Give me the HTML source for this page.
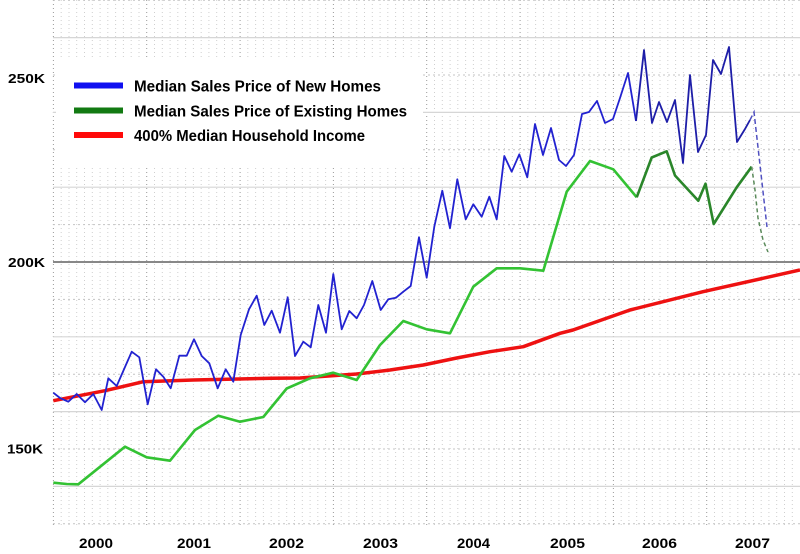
<!DOCTYPE html>
<html><head><meta charset="utf-8"><style>
html,body{margin:0;padding:0;background:#fff;}
svg{display:block;}
text{font-family:"Liberation Sans",Arial,sans-serif;font-weight:bold;fill:#000;}
</style></head><body>
<svg width="800" height="554" viewBox="0 0 800 554" xmlns="http://www.w3.org/2000/svg">
<rect width="800" height="554" fill="#fff"/>
<g id="vgrid" stroke-width="1" stroke-dasharray="1,3"></g>
<g id="hgrid"></g>
<!-- legend box -->
<rect x="56" y="57" width="367" height="111" fill="#fff"/>
<line x1="53" y1="262" x2="800" y2="262" stroke="#888" stroke-width="2"/>
<!-- red -->
<polyline fill="none" stroke="#ee1111" stroke-width="3.5" stroke-linejoin="round" points="53.3,400.7 105,390.7 143.3,381.7 193.3,380 271.7,378.3 300,378 356.7,374 390,370 423.3,365 456.7,358 490,351.7 523.3,346.7 560,333.3 573,330 630,310 703,291.7 800,270"/>
<!-- green -->
<polyline fill="none" stroke="#33c233" stroke-width="2.6" stroke-linejoin="round" points="53.3,482.7 66.7,484 78.3,484.3 125,446.7 146.7,457.3 170,460.7 195,430 218.3,415.7 240,421.7 263.3,417 286.7,388.5 310,378.3 333.3,372.7 356.7,380 380,345 403.3,321 426.7,329.3 450,333.3 473.3,286.7 496.7,268.3 520,268.3 543.3,270.7 566.7,191.7 590,161 613.3,169.3 636.7,197.3"/>
<polyline fill="none" stroke="#2a862a" stroke-width="2.6" stroke-linejoin="round" points="636.7,197.3 651.7,157.5 666.7,151.3 675,175.5 698.3,200.7 705.5,183.7 713.7,224 736.7,187.3 751.7,166.7"/>
<polyline fill="none" stroke="#5a8a5a" stroke-width="1.5" stroke-dasharray="4,3" points="751.7,166.7 755,190 758,218 763,240 768,252"/>
<!-- blue -->
<polyline fill="none" stroke="#2222d0" stroke-width="1.8" stroke-linejoin="round" points="53.3,392.7 60,398 68.3,401.7 76.7,394 85,402.3 93.3,394 101.7,410 108.3,378.3 116.7,386 131.7,351.7 139.3,357.3 147.7,404.3 156,369.3 163.3,376.7 170.7,388.3 179.3,355.7 186.7,355.7 194,339.3 201.7,356 209.3,363.3 217.7,388.3 225.7,369.3 233.3,381.7 240.7,335 249,309.3 256.7,295.7 264.3,325 271.7,310.7 280,332.7 287.7,297.3 295,356 303.3,341.7 310.7,347.3 318.3,305 326,332.7 333.3,274 341.7,329.3 349.3,311 356.7,318.3 364,305 372.3,281 380.7,310 388.3,299.3 396,297.7 403.3,291.7 410.7,286 419,237.3 426.7,277.7 434.3,226.7 442.3,190.7 450,228.3 457.3,179.3 465.7,219.3 473.3,204.3 481.7,216.7 489.3,196.7 496.7,219.3 504.3,156 511.7,171.7 519.3,154.3 527.3,177.3 535,124 543,155 551,128 559,160 566,166 574,155 582,114 589,112 597,101 605,123 613,119 620,98 628,73 636,121"/>
<polyline fill="none" stroke="#1e1ea8" stroke-width="1.8" stroke-linejoin="round" points="636,121 644,50 652,123 659,102 667,122 675,100 683,163 690,75 698,152 706,135 713,60 721,74 729,47 737,142 745,129 750,120"/>
<polyline fill="none" stroke="#5050c0" stroke-width="1.5" stroke-dasharray="5,3" points="750,120 754,112 760,165 767,227"/>
<!-- legend -->
<rect x="74" y="82.5" width="49" height="6" fill="#1010f0"/>
<rect x="74" y="107.5" width="49" height="6" fill="#127a12"/>
<rect x="74" y="132" width="49" height="6" fill="#ff0a0a"/>
<text x="134" y="91.5" font-size="16" textLength="247" lengthAdjust="spacingAndGlyphs">Median Sales Price of New Homes</text>
<text x="134" y="116.5" font-size="16" textLength="273" lengthAdjust="spacingAndGlyphs">Median Sales Price of Existing Homes</text>
<text x="134" y="141" font-size="16" textLength="231" lengthAdjust="spacingAndGlyphs">400% Median Household Income</text>
<!-- y labels -->
<text x="8" y="83" font-size="13" textLength="37" lengthAdjust="spacingAndGlyphs">250K</text>
<text x="8" y="267" font-size="13" textLength="37" lengthAdjust="spacingAndGlyphs">200K</text>
<text x="7" y="453.5" font-size="13" textLength="36" lengthAdjust="spacingAndGlyphs">150K</text>
<!-- x labels -->
<text x="79" y="548" font-size="14" textLength="34" lengthAdjust="spacingAndGlyphs">2000</text>
<text x="177" y="548" font-size="14" textLength="34" lengthAdjust="spacingAndGlyphs">2001</text>
<text x="269" y="548" font-size="14" textLength="35" lengthAdjust="spacingAndGlyphs">2002</text>
<text x="363" y="548" font-size="14" textLength="35" lengthAdjust="spacingAndGlyphs">2003</text>
<text x="457" y="548" font-size="14" textLength="33" lengthAdjust="spacingAndGlyphs">2004</text>
<text x="550" y="548" font-size="14" textLength="35" lengthAdjust="spacingAndGlyphs">2005</text>
<text x="642" y="548" font-size="14" textLength="35" lengthAdjust="spacingAndGlyphs">2006</text>
<text x="735" y="548" font-size="14" textLength="35" lengthAdjust="spacingAndGlyphs">2007</text>
</svg>
<script>
(function(){
var ns="http://www.w3.org/2000/svg";
var vg=document.getElementById("vgrid");
for(var k=0;k<=96;k++){
  var x=53.4+k*93.33/12;
  if(x>800) break;
  var l=document.createElementNS(ns,"line");
  l.setAttribute("x1",x.toFixed(1));l.setAttribute("x2",x.toFixed(1));
  l.setAttribute("y1","0");l.setAttribute("y2","526");
  l.setAttribute("stroke",(k%12==0)?"#9a9a9a":"#cfcfcf");
  vg.appendChild(l);
}
var hg=document.getElementById("hgrid");
for(var v=130;v<=270;v+=10){
  if(v==200) continue;
  var y=262-(v-200)*3.74;
  var l=document.createElementNS(ns,"line");
  l.setAttribute("x1","53");l.setAttribute("x2","800");
  l.setAttribute("y1",y.toFixed(1));l.setAttribute("y2",y.toFixed(1));
  if(((v-200)/10)%2==0){l.setAttribute("stroke","#d6d6d6");l.setAttribute("stroke-width","1.2");}
  else{l.setAttribute("stroke","#c4c4c4");l.setAttribute("stroke-dasharray","2,3");}
  hg.appendChild(l);
}
})();
</script>
</body></html>
